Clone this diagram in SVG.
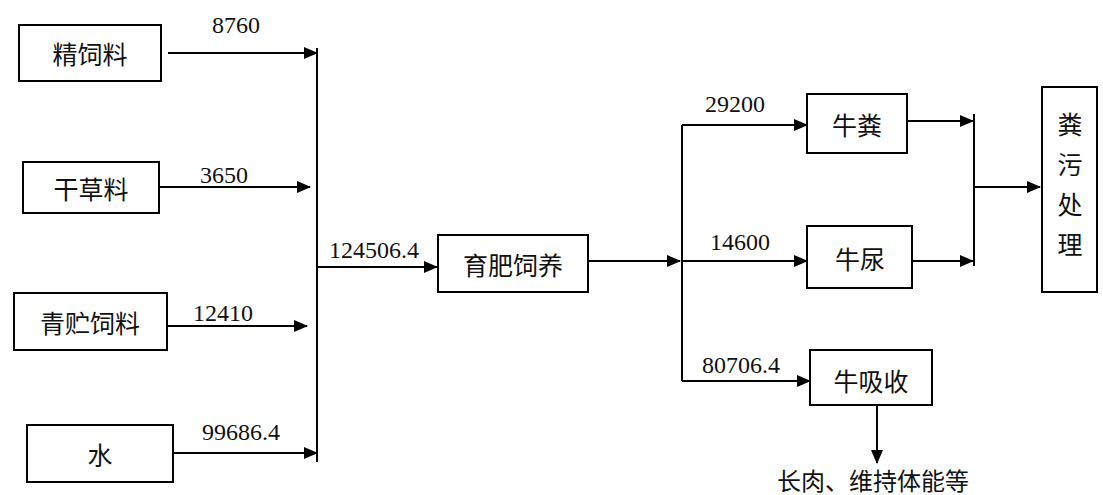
<svg xmlns="http://www.w3.org/2000/svg" width="1103" height="495" viewBox="0 0 1103 495">
<style>
.box{fill:#fff;stroke:#000;stroke-width:2}
.cn{font-family:"Noto Sans CJK SC","Noto Sans",sans-serif;font-size:25px;fill:#111;text-anchor:middle;dominant-baseline:central}
.num{font-family:"Times New Roman","Liberation Serif","DejaVu Serif",serif;font-size:24px;fill:#111}
.ln{stroke:#000;stroke-width:2;fill:none}
</style>
<defs>
<marker id="ah" markerWidth="14" markerHeight="12" refX="13" refY="6" orient="auto" markerUnits="userSpaceOnUse">
<path d="M0,0 L14,6 L0,12 Z" fill="#000"/>
</marker>
</defs>
<rect width="1103" height="495" fill="#fff"/>
<g id="connectors">
<path class="ln" d="M168,53 H317" marker-end="url(#ah)"/>
<path class="ln" d="M159,187 H310" marker-end="url(#ah)"/>
<path class="ln" d="M167,326 H307" marker-end="url(#ah)"/>
<path class="ln" d="M173,453 H317" marker-end="url(#ah)"/>
<path class="ln" d="M317,48 V462"/>
<path class="ln" d="M317,267 H437" marker-end="url(#ah)"/>
<path class="ln" d="M588,261 H680" marker-end="url(#ah)"/>
<path class="ln" d="M682,125 V381"/>
<path class="ln" d="M682,125 H807" marker-end="url(#ah)"/>
<path class="ln" d="M682,261 H807" marker-end="url(#ah)"/>
<path class="ln" d="M682,381 H810" marker-end="url(#ah)"/>
<path class="ln" d="M907,121 H973" marker-end="url(#ah)"/>
<path class="ln" d="M912,261 H973" marker-end="url(#ah)"/>
<path class="ln" d="M974,114 V266"/>
<path class="ln" d="M974,187 H1040" marker-end="url(#ah)"/>
<path class="ln" d="M877,405 V463" marker-end="url(#ah)"/>
<text class="num" x="212" y="33">8760</text>
<text class="num" x="200" y="183">3650</text>
<text class="num" x="193" y="321">12410</text>
<text class="num" x="202" y="440">99686.4</text>
<text class="num" x="329" y="258">124506.4</text>
<text class="num" x="705" y="112">29200</text>
<text class="num" x="710" y="250">14600</text>
<text class="num" x="702" y="373">80706.4</text>
</g>
<g id="n1"><rect class="box" x="19" y="25" width="142" height="56"/><text class="cn" x="90" y="53">精饲料</text></g>
<g id="n2"><rect class="box" x="23" y="162" width="136" height="51"/><text class="cn" x="91" y="188">干草料</text></g>
<g id="n3"><rect class="box" x="14" y="293" width="153" height="57"/><text class="cn" x="90" y="322">青贮饲料</text></g>
<g id="n4"><rect class="box" x="27" y="425" width="146" height="57"/><text class="cn" x="100" y="454">水</text></g>
<g id="n5"><rect class="box" x="438" y="235" width="150" height="57"/><text class="cn" x="513" y="264">育肥饲养</text></g>
<g id="n6"><rect class="box" x="807" y="94" width="100" height="59"/><text class="cn" x="857" y="124">牛粪</text></g>
<g id="n7"><rect class="box" x="807" y="226" width="105" height="62"/><text class="cn" x="860" y="258">牛尿</text></g>
<g id="n8"><rect class="box" x="810" y="350" width="122" height="55"/><text class="cn" x="871" y="380">牛吸收</text></g>
<g id="n9"><rect class="box" x="1042" y="87" width="55" height="205"/>
<text class="cn" x="1070" y="123">粪</text><text class="cn" x="1070" y="163">污</text><text class="cn" x="1070" y="203">处</text><text class="cn" x="1070" y="243">理</text></g>
<g id="n10"><text class="cn" x="873" y="479" style="font-size:24px">长肉、维持体能等</text></g>
</svg>
